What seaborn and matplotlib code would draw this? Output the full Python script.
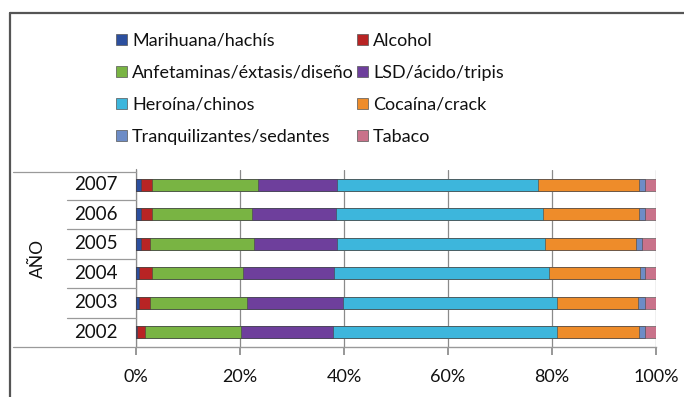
import numpy as np
import pandas as pd
import matplotlib
matplotlib.use("Agg")
import matplotlib.pyplot as plt
from matplotlib.patches import Patch
from matplotlib.lines import Line2D
import seaborn as sns

years = ["2007", "2006", "2005", "2004", "2003", "2002"]
substances = ["Marihuana/hachís", "Alcohol", "Anfetaminas/éxtasis/diseño",
              "LSD/ácido/tripis", "Heroína/chinos", "Cocaína/crack",
              "Tranquilizantes/sedantes", "Tabaco"]
marihuana = [1.0, 1.0, 1.0, 0.6, 0.6, 0.2]
alcohol = [2.1, 2.1, 1.7, 2.4, 2.1, 1.5]
anfetaminas = [20.3, 19.3, 20.0, 17.5, 18.6, 18.4]
lsd = [15.2, 16.1, 15.9, 17.6, 18.6, 17.7]
heroina = [38.8, 39.7, 40.1, 41.3, 41.0, 43.1]
cocaina = [19.4, 18.6, 17.5, 17.5, 15.7, 15.9]
tranquilizantes = [1.1, 1.1, 1.2, 1.0, 1.3, 1.1]
tabaco = [2.1, 2.1, 2.6, 2.1, 2.1, 2.1]
xticks = [0, 20, 40, 60, 80, 100]
xticklabels = ["0%", "20%", "40%", "60%", "80%", "100%"]

colors = ["#2c4f9e", "#b82424", "#79b443", "#6e3f9c",
          "#3db6dc", "#ee8c2a", "#6d8cc6", "#c9728a"]

series = [marihuana, alcohol, anfetaminas, lsd, heroina, cocaina,
          tranquilizantes, tabaco]
vals = np.array(series)
cum = np.cumsum(vals, axis=0)

rows = []
for i, s in enumerate(substances):
    for j, y in enumerate(years):
        rows.append({"Año": y, "Sustancia": s, "cum": cum[i, j]})
df = pd.DataFrame(rows)

sns.set_theme(style="white")
plt.rcParams["font.family"] = ["Lato", "DejaVu Sans"]

W, H = 684, 397
fig = plt.figure(figsize=(W / 100, H / 100), dpi=100)
fig.patch.set_facecolor("white")
L, R, T, B = 136, 656, 170, 347
ax = fig.add_axes([L / W, 1 - B / H, (R - L) / W, (B - T) / H])

for i in range(len(substances) - 1, -1, -1):
    sub = df[df["Sustancia"] == substances[i]]
    sns.barplot(data=sub, x="cum", y="Año", order=years, orient="h",
                color=colors[i], saturation=1, width=0.42, ax=ax,
                edgecolor="#444444", linewidth=0.4, zorder=3)

txtc = "#111111"
ax.set_xlim(0, 100)
ax.set_ylim(5.5, -0.5)
ax.set_xticks(xticks)
ax.set_xticklabels(xticklabels, fontsize=13, color=txtc)
ax.set_yticks([])
ax.set_xlabel("")
ax.set_ylabel("")
for sp in ["top", "right", "left"]:
    ax.spines[sp].set_visible(False)
ax.spines["bottom"].set_color("#999999")
ax.spines["bottom"].set_linewidth(1.0)
ax.xaxis.grid(True, color="#8a8a8a", linewidth=0.9, zorder=0)
ax.set_axisbelow(True)
ax.tick_params(axis="x", length=6, color="#8a8a8a", pad=10, direction="out",
               bottom=True)

# left axis line
ax.plot([0, 0], [-0.55, 5.5], color="#8a8a8a", lw=0.9, clip_on=False,
        zorder=1)

# year labels and category separators
to_ax = lambda px: (px - L) / (R - L) * 100
for j, y in enumerate(years):
    ax.text(to_ax(118), j, y, ha="right", va="center", fontsize=13.5,
            color=txtc)
for j in range(1, len(years)):
    ax.plot([to_ax(67), 0], [j - 0.5, j - 0.5], color="#9a9a9a", lw=0.9,
            clip_on=False)
ax.plot([to_ax(13), 0], [-0.43, -0.43], color="#9a9a9a", lw=0.9,
        clip_on=False)
ax.plot([to_ax(13), 0], [5.5, 5.5], color="#9a9a9a", lw=0.9, clip_on=False)
ax.text(to_ax(38), 2.5, "AÑO", rotation=90, ha="center", va="center",
        fontsize=12.5, color=txtc)

# outer frame (top and left)
fig.add_artist(Line2D([10 / W, 1], [1 - 13 / H, 1 - 13 / H],
                      color="#555555", lw=1.6))
fig.add_artist(Line2D([10 / W, 10 / W], [0, 1 - 13 / H],
                      color="#555555", lw=1.6))

# legend
order = [0, 2, 4, 6, 1, 3, 5, 7]
handles = [Patch(facecolor=colors[k], edgecolor="#555555", linewidth=0.5)
           for k in order]
labels = [substances[k] for k in order]
leg = fig.legend(handles, labels, ncol=2, loc="upper left",
                 bbox_to_anchor=(116 / W, 1 - 33 / H), frameon=False,
                 prop={"size": 13},
                 handlelength=0.6, handleheight=0.6,
                 handletextpad=0.3, labelspacing=0.88, columnspacing=0.15,
                 borderaxespad=0, borderpad=0)
for t in leg.get_texts():
    t.set_color(txtc)

fig.savefig("out.png", dpi=100, facecolor="white")
